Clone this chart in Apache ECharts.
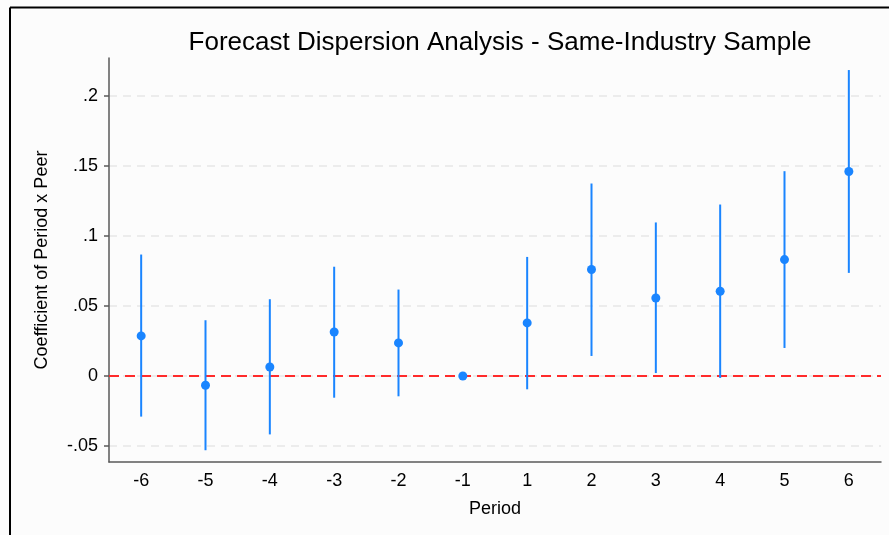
<!DOCTYPE html>
<html>
<head>
<meta charset="utf-8">
<script src="https://cdn.jsdelivr.net/npm/echarts@6/dist/echarts.min.js"></script>
<style>html,body{margin:0;padding:0;background:#fcfcfc;}#c{width:889px;height:535px;}</style>
</head>
<body>
<div id="c"></div>
<script>
const periods = ['-6','-5','-4','-3','-2','-1','1','2','3','4','5','6'];
const coef  = [0.0286, -0.0066, 0.0064, 0.0314, 0.0236, 0.0, 0.0379, 0.0760, 0.0557, 0.0605, 0.0831, 0.1460];
const ciLow = [-0.0290, -0.0530, -0.0417, -0.0155, -0.0145, 0.0, -0.0095, 0.0143, 0.0021, -0.0014, 0.0200, 0.0736];
const ciHigh= [0.0867, 0.0398, 0.0548, 0.0780, 0.0617, 0.0, 0.0850, 0.1374, 0.1096, 0.1224, 0.1462, 0.2184];
const yTicks = [-0.05, 0, 0.05, 0.1, 0.15, 0.2];
const refLine = [0];

const FONT = '"Liberation Sans", Arial, Helvetica, sans-serif';
const chart = echarts.init(document.getElementById('c'), null, {renderer: 'canvas'});

function fmt(v) {
  if (Math.abs(v) < 1e-9) return '0';
  let s = String(Math.round(v * 1000) / 1000);
  return s.replace(/^(-?)0\./, '$1.');
}

const errData = periods.map((p, i) => [i, ciLow[i], ciHigh[i]]);
const ptData = periods.map((p, i) => [i, coef[i]]);
const refData = refLine.map(v => [0, v]);

chart.setOption({
  backgroundColor: '#fcfcfc',
  animation: false,
  title: {
    text: 'Forecast Dispersion Analysis - Same-Industry Sample',
    left: 495, top: 24.5, textAlign: 'center',
    textStyle: {fontFamily: FONT, fontSize: 26, fontWeight: 'normal', color: '#000'}
  },
  grid: {left: 109, right: 8, top: 58, bottom: 73, containLabel: false},
  xAxis: {
    type: 'category', data: periods, boundaryGap: true,
    name: 'Period', nameLocation: 'middle', nameGap: 38,
    nameTextStyle: {fontFamily: FONT, fontSize: 18, color: '#000'},
    axisLine: {onZero: false, lineStyle: {color: '#5a5a5a', width: 1.5}},
    axisTick: {alignWithLabel: true, length: 5, lineStyle: {color: '#5a5a5a', width: 1.5}},
    axisLabel: {fontFamily: FONT, fontSize: 18, color: '#000', margin: 10},
    splitLine: {show: false}
  },
  yAxis: {
    type: 'value', min: -0.0614, max: 0.227,
    name: 'Coefficient of Period x Peer', nameLocation: 'middle', nameRotate: 90, nameGap: 58,
    nameTextStyle: {fontFamily: FONT, fontSize: 18, color: '#000'},
    axisLine: {show: true, onZero: false, lineStyle: {color: '#5a5a5a', width: 1.5}},
    axisTick: {show: true, length: 5, customValues: yTicks, lineStyle: {color: '#5a5a5a', width: 1.5}},
    axisLabel: {customValues: yTicks, fontFamily: FONT, fontSize: 18, color: '#000', margin: 11, formatter: fmt},
    splitLine: {show: true, lineStyle: {color: '#e6e6e6', width: 1.5, type: [8, 6]}}
  },
  series: [
    {
      type: 'custom',
      data: refData,
      encode: {x: 0, y: 1},
      z: 2,
      silent: true,
      renderItem: function (params, api) {
        const cs = params.coordSys;
        const y = api.coord([0, api.value(1)])[1];
        return {
          type: 'line',
          shape: {x1: cs.x, y1: y, x2: cs.x + cs.width, y2: y},
          style: {stroke: '#ff2b2b', lineWidth: 2.2, lineDash: [10, 6], fill: null}
        };
      }
    },
    {
      type: 'custom',
      data: errData,
      encode: {x: 0, y: [1, 2]},
      z: 3,
      renderItem: function (params, api) {
        const x = api.value(0);
        const p1 = api.coord([x, api.value(1)]);
        const p2 = api.coord([x, api.value(2)]);
        return {
          type: 'line',
          shape: {x1: p1[0], y1: p1[1], x2: p2[0], y2: p2[1]},
          style: {stroke: '#1a85ff', lineWidth: 2}
        };
      }
    },
    {
      type: 'scatter',
      data: ptData,
      symbol: 'circle', symbolSize: 9,
      itemStyle: {color: '#1a85ff', opacity: 1},
      z: 4
    }
  ],
  graphic: [
    {type: 'line', shape: {x1: 10, y1: 7.5, x2: 889, y2: 7.5}, style: {stroke: '#000', lineWidth: 2}, z: 10},
    {type: 'line', shape: {x1: 10, y1: 7.5, x2: 10, y2: 535}, style: {stroke: '#000', lineWidth: 2}, z: 10}
  ]
});
</script>
</body>
</html>
